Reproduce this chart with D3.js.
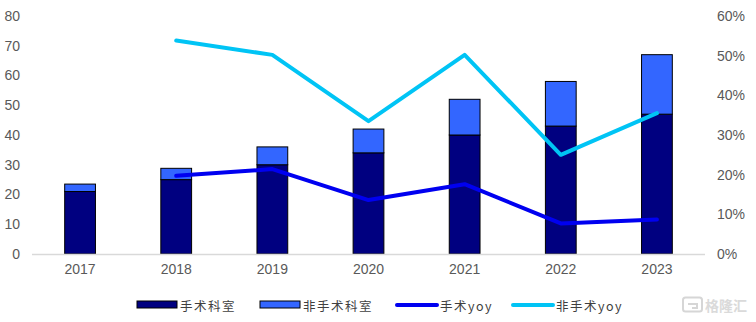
<!DOCTYPE html>
<html>
<head>
<meta charset="utf-8">
<script src="https://cdn.jsdelivr.net/npm/d3@7/dist/d3.min.js"></script>
<style>
  html, body { margin: 0; padding: 0; background: #fff; }
  svg { display: block; }
</style>
</head>
<body>
<div id="chart"></div>
<script>
// Hospital department revenue, 2017-2023
const years = ["2017", "2018", "2019", "2020", "2021", "2022", "2023"];
const surgical = [21, 25, 30, 34, 40, 43, 47];          // 手术科室
const nonSurgical = [2.5, 3.8, 6, 8, 12, 15, 20];       // 非手术科室
const surgicalYoy = [null, 19.7, 21.4, 13.6, 17.6, 7.7, 8.7];     // 手术yoy (%)
const nonSurgicalYoy = [null, 53.8, 50.2, 33.5, 50.2, 25.0, 35.5]; // 非手术yoy (%)
const leftTicks = [0, 10, 20, 30, 40, 50, 60, 70, 80];
const rightTicks = [0, 10, 20, 30, 40, 50, 60];

const W = 756, H = 322;
const plot = { left: 32, right: 705, top: 16, bottom: 254 };

const colors = {
  surgical: "#000080",
  nonSurgical: "#3366ff",
  surgicalYoy: "#0000f0",
  nonSurgicalYoy: "#00c4f5",
  text: "#595959",
  axis: "#d9d9d9"
};

const svg = d3.select("#chart").append("svg")
  .attr("width", W).attr("height", H);

const x = d3.scaleBand().domain(years).range([plot.left, plot.right]).paddingInner(0.68).paddingOuter(0.34);
const yL = d3.scaleLinear().domain([0, 80]).range([plot.bottom, plot.top]);
const yR = d3.scaleLinear().domain([0, 60]).range([plot.bottom, plot.top]);

const font = "Arial, 'Liberation Sans', sans-serif";

// Left axis
const leftAxis = svg.append("g")
  .attr("transform", `translate(${plot.left - 12},0)`)
  .call(d3.axisLeft(yL).tickValues(leftTicks).tickSize(0).tickPadding(0));
leftAxis.select(".domain").remove();
leftAxis.selectAll("text").attr("fill", colors.text).style("font", `14px ${font}`);

// Right axis
const rightAxis = svg.append("g")
  .attr("transform", `translate(${plot.right + 12},0)`)
  .call(d3.axisRight(yR).tickValues(rightTicks).tickFormat(d => d + "%").tickSize(0).tickPadding(0));
rightAxis.select(".domain").remove();
rightAxis.selectAll("text").attr("fill", colors.text).style("font", `14px ${font}`);

// Stacked bars
const stackData = years.map((y, i) => ({ year: y, surgical: surgical[i], nonSurgical: nonSurgical[i] }));
const stack = d3.stack().keys(["surgical", "nonSurgical"])(stackData);

svg.append("g").selectAll("g")
  .data(stack).join("g")
  .attr("fill", d => colors[d.key])
  .selectAll("rect")
  .data(d => d).join("rect")
  .attr("x", d => x(d.data.year))
  .attr("width", x.bandwidth())
  .attr("y", d => yL(d[1]))
  .attr("height", d => yL(d[0]) - yL(d[1]))
  .attr("stroke", "#000")
  .attr("stroke-width", 1);

// Baseline
svg.append("line")
  .attr("x1", plot.left).attr("x2", plot.right)
  .attr("y1", yL(0) + 0.5).attr("y2", yL(0) + 0.5)
  .attr("stroke", colors.axis).attr("stroke-width", 1.5);

// X axis labels
const xAxis = svg.append("g")
  .attr("transform", `translate(0,${plot.bottom + 10})`)
  .call(d3.axisBottom(x).tickSize(0).tickPadding(0));
xAxis.select(".domain").remove();
xAxis.selectAll("text").attr("fill", colors.text).style("font", `14px ${font}`);

// YoY lines
const line = d3.line()
  .defined(d => d.v != null)
  .x(d => x(d.year) + x.bandwidth() / 2)
  .y(d => yR(d.v));

[["surgicalYoy", surgicalYoy], ["nonSurgicalYoy", nonSurgicalYoy]].forEach(([key, vals]) => {
  svg.append("path")
    .datum(years.map((y, i) => ({ year: y, v: vals[i] })))
    .attr("d", line)
    .attr("fill", "none")
    .attr("stroke", colors[key])
    .attr("stroke-width", 4)
    .attr("stroke-linejoin", "round")
    .attr("stroke-linecap", "round");
});

// Legend
const legendY = 305;
const cjk = "'Noto Sans CJK SC', sans-serif";
const legendItems = [
  { label: "手术科室", type: "rect", color: colors.surgical, x: 137 },
  { label: "非手术科室", type: "rect", color: colors.nonSurgical, x: 260 },
  { label: "手术yoy", type: "line", color: colors.surgicalYoy, x: 397 },
  { label: "非手术yoy", type: "line", color: colors.nonSurgicalYoy, x: 513 }
];
const lg = svg.append("g");
legendItems.forEach(it => {
  if (it.type === "rect") {
    lg.append("rect").attr("x", it.x).attr("y", legendY - 4).attr("width", 40).attr("height", 7)
      .attr("fill", it.color).attr("stroke", "#000").attr("stroke-width", 1);
  } else {
    lg.append("line").attr("x1", it.x).attr("x2", it.x + 40)
      .attr("y1", legendY).attr("y2", legendY)
      .attr("stroke", it.color).attr("stroke-width", 4).attr("stroke-linecap", "round");
  }
  lg.append("text").attr("x", it.x + 43).attr("y", legendY)
    .attr("dominant-baseline", "central")
    .attr("fill", "#404040")
    .attr("letter-spacing", 1.5)
    .style("font", `12.5px ${cjk}`)
    .text(it.label);
});

// Watermark
const wm = svg.append("g");
wm.append("rect").attr("x", 683).attr("y", 297.5).attr("width", 19).attr("height", 14)
  .attr("rx", 2.5).attr("fill", "none").attr("stroke", "#d6d6d6").attr("stroke-width", 2);
wm.append("path").attr("d", "M688,304 h9 v4 h-5")
  .attr("fill", "none").attr("stroke", "#d6d6d6").attr("stroke-width", 2);
wm.append("text").attr("x", 705).attr("y", 305).attr("dominant-baseline", "central")
  .attr("fill", "#dadada").style("font", `bold 14px ${cjk}`).text("格隆汇");
</script>
</body>
</html>
